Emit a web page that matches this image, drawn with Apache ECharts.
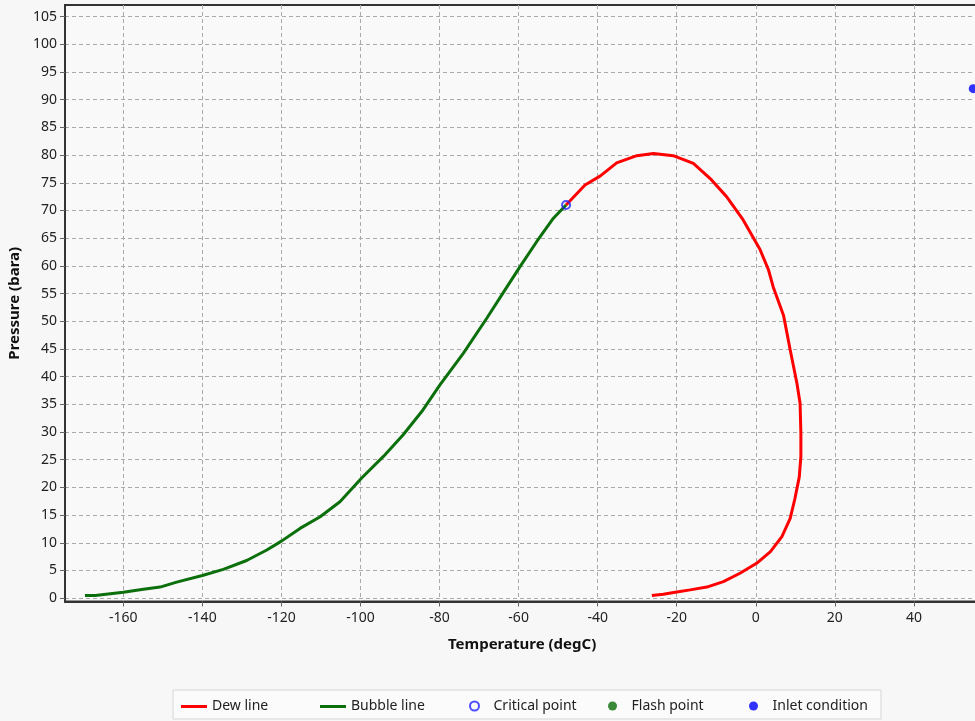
<!DOCTYPE html>
<html><head><meta charset="utf-8">
<script src="https://cdn.jsdelivr.net/npm/echarts@6/dist/echarts.min.js"></script>
<style>html,body{margin:0;padding:0;background:#f7f7f7}#c{width:975px;height:721px}</style>
</head><body><div id="c"></div><script>
// Dew line (from critical point, clockwise)
const dewT = [-48, -43.2, -39.4, -35.2, -30.1, -25.9, -20.9, -15.8, -11.6, -7.4, -3.2, 1.1, 3.2, 4.4, 7.0, 8.7, 10.4, 11.2, 11.4, 11.4, 11.0, 9.9, 8.7, 6.6, 3.7, 0.2, -4.0, -8.2, -12.4, -16.6, -20.0, -23.4, -26.3];
const dewP = [71, 74.6, 76.2, 78.6, 79.9, 80.3, 79.9, 78.5, 75.8, 72.5, 68.3, 62.9, 59.3, 56.2, 51.1, 44.8, 38.8, 35.2, 29.8, 25.6, 21.9, 18.0, 14.4, 11.1, 8.4, 6.3, 4.5, 3.0, 2.0, 1.5, 1.1, 0.7, 0.5];
// Bubble line
const bubbleT = [-169.7, -167.1, -160, -154.9, -150.7, -146.5, -140, -134.7, -128.8, -123.7, -120, -115.3, -110.2, -105.2, -99.7, -94.2, -89.2, -84.5, -79.9, -74, -68.1, -63.4, -59.6, -55.4, -51.2, -48];
const bubbleP = [0.47, 0.5, 1.08, 1.6, 2.0, 2.9, 4.1, 5.2, 6.8, 8.7, 10.3, 12.6, 14.7, 17.4, 21.7, 25.6, 29.5, 33.7, 38.5, 44.2, 50.5, 55.7, 59.9, 64.4, 68.6, 71];
const criticalPoint = [[-48, 71]];
const flashPoint = [];
const inletPoint = [[55, 92]];
const seriesNames = ['Dew line', 'Bubble line', 'Critical point', 'Flash point', 'Inlet condition'];
const xTickValues = [-160, -140, -120, -100, -80, -60, -40, -20, 0, 20, 40];
const yTickValues = [0, 5, 10, 15, 20, 25, 30, 35, 40, 45, 50, 55, 60, 65, 70, 75, 80, 85, 90, 95, 100, 105];
const xTitle = 'Temperature (degC)';
const yTitle = 'Pressure (bara)';

const zip = (a, b) => a.map((v, i) => [v, b[i]]);
const FONT = 'Noto Sans';
const legendLefts = [181, 320, 469, 608, 749];
const legendWidths = [26, 26, 28, 28, 28];

const chart = echarts.init(document.getElementById('c'));
const gridLine = { show: true, lineStyle: { color: '#aaa', type: [4, 3], width: 1 } };
chart.setOption({
  backgroundColor: '#f7f7f7',
  animation: false,
  textStyle: { fontFamily: FONT },
  grid: { left: 65, top: 5, width: 928, bottom: 119.5, outerBoundsMode: 'none', containLabel: false, show: true, borderColor: '#333', borderWidth: 2, backgroundColor: '#f9f9f9' },
  xAxis: {
    type: 'value', min: -174.75, max: 60,
    axisLine: { show: true, onZero: false, lineStyle: { color: '#333', width: 2 } },
    axisTick: { show: true, length: 5, customValues: xTickValues, lineStyle: { color: '#666' } },
    axisLabel: { color: '#222', fontSize: 14, fontFamily: FONT, margin: 10, customValues: xTickValues },
    splitLine: gridLine
  },
  yAxis: {
    type: 'value', min: -0.6, max: 107.1,
    name: yTitle, nameLocation: 'middle', nameGap: 32,
    nameTextStyle: { fontWeight: 'bold', fontSize: 15, color: '#111', fontFamily: FONT },
    axisLine: { show: true, onZero: false, lineStyle: { color: '#333', width: 2 } },
    axisTick: { show: true, length: 5, customValues: yTickValues, lineStyle: { color: '#666' } },
    axisLabel: { color: '#222', fontSize: 14, fontFamily: FONT, margin: 8, customValues: yTickValues },
    splitLine: gridLine
  },
  graphic: [
    { type: 'text', left: 448, top: 637, style: { text: xTitle, fontWeight: 'bold', fontSize: 15, fontFamily: FONT, fill: '#111' } },
    { type: 'rect', shape: { x: 173, y: 690, width: 708, height: 29 }, style: { fill: '#fbfbfb', stroke: '#d6d6d6', lineWidth: 1 }, z: -1 }
  ],
  legend: seriesNames.map((n, i) => ({
    data: i < 2 ? [{ name: n, icon: 'rect' }] : [n],
    left: legendLefts[i], top: i < 2 ? 699.5 : 699, padding: 0, itemGap: 0,
    itemWidth: legendWidths[i], itemHeight: i < 2 ? 3 : 9,
    textStyle: { fontSize: 14, color: '#222', fontFamily: FONT }
  })),
  series: [
    { name: seriesNames[0], type: 'line', data: zip(dewT, dewP), symbol: 'none', lineStyle: { color: '#ff0000', width: 3 }, itemStyle: { color: '#ff0000' }, z: 3 },
    { name: seriesNames[1], type: 'line', data: zip(bubbleT, bubbleP), symbol: 'none', lineStyle: { color: '#0b6f0b', width: 3 }, itemStyle: { color: '#0b6f0b' }, z: 3 },
    { name: seriesNames[2], type: 'scatter', data: criticalPoint, symbol: 'circle', symbolSize: 8, itemStyle: { color: 'rgba(0,0,0,0)', borderColor: '#2222ff', borderWidth: 2 }, z: 5 },
    { name: seriesNames[3], type: 'scatter', data: flashPoint, symbolSize: 9, itemStyle: { color: '#0a6e0a' } },
    { name: seriesNames[4], type: 'scatter', data: inletPoint, symbolSize: 9, itemStyle: { color: '#0000ff' }, clip: false }
  ]
});
</script></body></html>
